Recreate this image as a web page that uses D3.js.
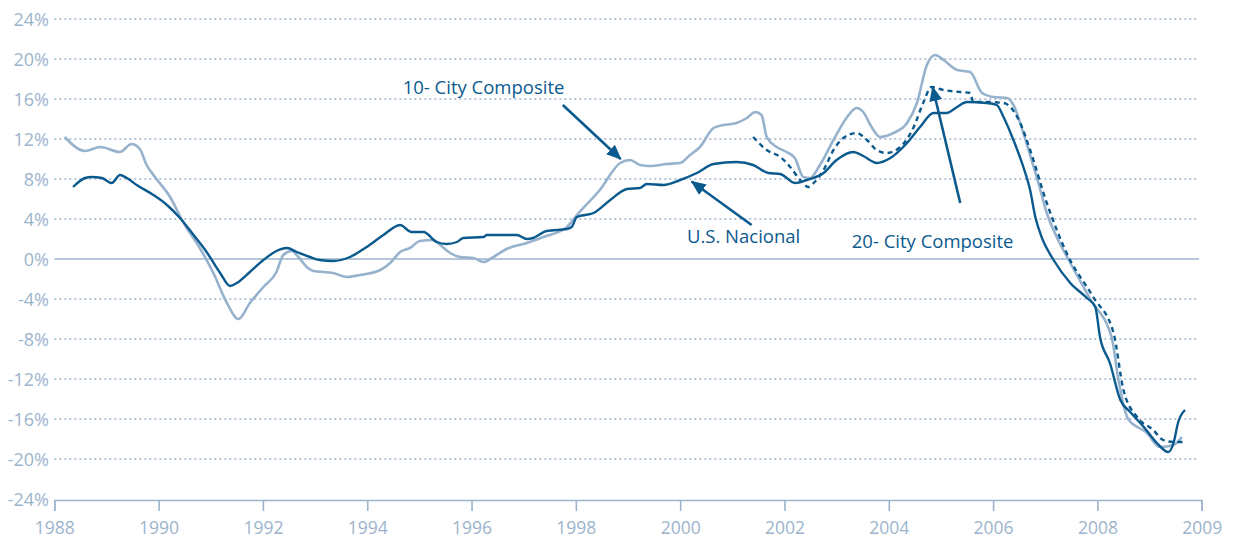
<!DOCTYPE html>
<html>
<head>
<meta charset="utf-8">
<script src="https://cdn.jsdelivr.net/npm/d3@7"></script>
<style>
  body { margin: 0; background: #fff; }
  svg text { font-family: "Open Sans", "Noto Sans", sans-serif; }
</style>
</head>
<body>
<div id="chart"></div>
<script>
// Data: [year, % change year over year]
const tenCity = [
  [1988.2, 12.2], [1988.59, 10.8], [1988.88, 11.2], [1989.26, 10.7], [1989.48, 11.5], [1989.64, 11.0],
  [1989.77, 9.4], [1989.93, 8.2], [1990.22, 6.2], [1990.48, 3.6], [1990.79, 1.1], [1991.05, -1.4],
  [1991.31, -4.4], [1991.53, -6.0], [1991.75, -4.4], [1992.01, -2.8], [1992.26, -1.3], [1992.39, 0.4],
  [1992.55, 0.8], [1992.68, 0.2], [1992.84, -0.8], [1992.97, -1.2], [1993.35, -1.4], [1993.61, -1.8],
  [1993.86, -1.6], [1994.25, -1.1], [1994.44, -0.4], [1994.63, 0.7], [1994.82, 1.1], [1995.01, 1.8],
  [1995.27, 1.9], [1995.4, 1.4], [1995.59, 0.6], [1995.78, 0.2], [1996.03, 0.1], [1996.23, -0.3],
  [1996.42, 0.2], [1996.67, 1.0], [1997.06, 1.6], [1997.38, 2.2], [1997.83, 3.2], [1998.02, 4.4],
  [1998.46, 6.9], [1998.85, 9.6], [1999.04, 9.9], [1999.23, 9.4], [1999.42, 9.3], [1999.74, 9.5],
  [2000.0, 9.6], [2000.19, 10.4], [2000.38, 11.2], [2000.64, 13.1], [2000.83, 13.4], [2001.08, 13.6],
  [2001.28, 14.1], [2001.44, 14.7], [2001.56, 14.4], [2001.66, 12.2], [2001.85, 11.2], [2002.04, 10.7],
  [2002.2, 10.1], [2002.36, 8.2], [2002.49, 8.1], [2002.68, 9.4], [2002.94, 11.9], [2003.19, 14.1],
  [2003.38, 15.1], [2003.51, 14.7], [2003.67, 13.2], [2003.83, 12.2], [2004.09, 12.6], [2004.35, 13.6],
  [2004.54, 15.6], [2004.73, 19.4], [2004.89, 20.4], [2005.05, 19.9], [2005.31, 18.9], [2005.56, 18.7],
  [2005.79, 16.6], [2006.01, 16.2], [2006.27, 16.1], [2006.39, 15.4], [2006.58, 12.6], [2006.71, 10.4],
  [2006.87, 7.6], [2007.03, 4.6], [2007.22, 2.2], [2007.44, 0.0], [2007.86, -4.0], [2008.28, -8.0],
  [2008.4, -12.0], [2008.59, -16.0], [2008.95, -17.4], [2009.2, -18.8], [2009.46, -18.6], [2009.62, -17.8]
];

const usNational = [
  [1988.36, 7.2], [1988.59, 8.1], [1988.72, 8.2], [1988.91, 8.1], [1989.1, 7.6], [1989.26, 8.4],
  [1989.39, 8.1], [1989.58, 7.4], [1989.9, 6.4], [1990.16, 5.4], [1990.41, 4.1], [1990.67, 2.4],
  [1990.92, 0.7], [1991.18, -1.4], [1991.37, -2.7], [1991.5, -2.4], [1991.75, -1.3], [1992.01, -0.1],
  [1992.26, 0.8], [1992.46, 1.1], [1992.65, 0.7], [1992.9, 0.2], [1993.09, -0.1], [1993.35, -0.2],
  [1993.67, 0.2], [1993.99, 1.2], [1994.31, 2.4], [1994.63, 3.4], [1994.85, 2.7], [1995.08, 2.7],
  [1995.33, 1.7], [1995.52, 1.5], [1995.72, 1.7], [1995.84, 2.1], [1996.23, 2.2], [1996.29, 2.4],
  [1996.87, 2.4], [1997.06, 2.0], [1997.18, 2.1], [1997.44, 2.8], [1997.83, 3.0], [1997.92, 3.2],
  [1998.02, 4.2], [1998.34, 4.6], [1998.66, 5.9], [1998.98, 7.0], [1999.23, 7.1], [1999.36, 7.5],
  [1999.68, 7.4], [2000.0, 7.9], [2000.32, 8.6], [2000.64, 9.5], [2001.08, 9.7], [2001.4, 9.4],
  [2001.69, 8.6], [2001.92, 8.5], [2002.2, 7.6], [2002.43, 7.9], [2002.75, 8.6], [2003.0, 9.9],
  [2003.32, 10.7], [2003.51, 10.3], [2003.77, 9.6], [2004.03, 10.1], [2004.35, 11.6], [2004.6, 13.2],
  [2004.86, 14.6], [2005.11, 14.6], [2005.31, 15.2], [2005.5, 15.7], [2005.88, 15.6], [2006.07, 15.4],
  [2006.2, 14.2], [2006.39, 11.9], [2006.58, 9.2], [2006.71, 6.9], [2006.81, 4.2], [2006.93, 2.2],
  [2007.16, -0.1], [2007.48, -2.4], [2007.8, -3.9], [2007.96, -4.8], [2008.05, -7.8], [2008.24, -10.4],
  [2008.44, -14.1], [2008.63, -15.3], [2008.89, -16.8], [2009.14, -18.4], [2009.36, -19.3], [2009.46, -18.4],
  [2009.55, -16.3], [2009.68, -15.1]
];

const twentyCity = [
  [2001.4, 12.2], [2001.66, 10.9], [2001.92, 10.2], [2002.11, 9.2], [2002.3, 7.9], [2002.46, 7.2],
  [2002.56, 7.6], [2002.75, 8.9], [2002.94, 10.9], [2003.13, 12.1], [2003.38, 12.6], [2003.58, 11.9],
  [2003.77, 10.9], [2003.96, 10.6], [2004.22, 11.2], [2004.47, 13.1], [2004.66, 15.6], [2004.82, 17.2],
  [2005.05, 16.9], [2005.37, 16.7], [2005.56, 16.6], [2005.62, 15.7], [2005.88, 15.7], [2006.2, 15.6],
  [2006.33, 15.2], [2006.52, 13.6], [2006.71, 10.9], [2007.03, 5.6], [2007.41, 0.6], [2007.92, -3.8],
  [2008.31, -7.4], [2008.5, -13.1], [2008.76, -15.8], [2009.07, -17.1], [2009.26, -18.1], [2009.46, -18.3],
  [2009.65, -18.3]
];

const yTicks = [24, 20, 16, 12, 8, 4, 0, -4, -8, -12, -16, -20, -24];
const xTickValues = [1988, 1990, 1992, 1994, 1996, 1998, 2000, 2002, 2004, 2006, 2008, 2010];
const xTickLabels = ["1988", "1990", "1992", "1994", "1996", "1998", "2000", "2002", "2004", "2006", "2008", "2009"];

// annotation labels with arrow [from, to] in data units
const notes = [
  { text: "10- City Composite", at: [1994.68, 16.5], from: [1997.75, 15.4], to: [1998.86, 10.0] },
  { text: "U.S. Nacional", at: [2000.13, 1.6], from: [2001.37, 3.4], to: [2000.22, 7.75] },
  { text: "20- City Composite", at: [2003.29, 1.1], from: [2005.37, 5.6], to: [2004.84, 17.2] }
];

const width = 1236, height = 540;
const darkBlue = "#0b5a8e";
const lightBlue = "#97b2cd";
const axisColor = "#9cb4cd";

const svg = d3.select("#chart")
  .append("svg")
  .attr("width", width)
  .attr("height", height);

const x = d3.scaleLinear().domain([1988, 2010]).range([54.3, 1201.7]);
const y = d3.scaleLinear().domain([-24, 24]).range([499, 19]);

// gridlines
svg.append("g")
  .selectAll("line")
  .data(yTicks.filter(d => d !== -24))
  .enter()
  .append("line")
  .attr("x1", x(1988))
  .attr("x2", 1199)
  .attr("y1", d => y(d))
  .attr("y2", d => y(d))
  .attr("stroke", axisColor)
  .attr("stroke-width", d => d === 0 ? 1.5 : 1.3)
  .attr("stroke-dasharray", d => d === 0 ? null : "2,3");

// y labels
svg.append("g")
  .selectAll("text")
  .data(yTicks)
  .enter()
  .append("text")
  .attr("x", 49)
  .attr("y", d => y(d) + 6.5)
  .attr("text-anchor", "end")
  .attr("fill", axisColor)
  .style("font-size", "18px")
  .text(d => d + "%");

// x axis
const xAxis = d3.axisBottom(x)
  .tickValues(xTickValues)
  .tickSize(11)
  .tickPadding(11)
  .tickFormat((d, i) => xTickLabels[i]);

const gx = svg.append("g")
  .attr("transform", `translate(0,${y(-24) + 1})`)
  .call(xAxis);

gx.select(".domain").attr("stroke", axisColor).attr("stroke-width", 1.6);
gx.selectAll(".tick line").attr("stroke", axisColor).attr("stroke-width", 1.6);
gx.selectAll(".tick text")
  .attr("fill", axisColor)
  .style("font-size", "17.5px")
  .style("font-family", "'Open Sans', sans-serif");

// lines
const line = d3.line()
  .x(d => x(d[0]))
  .y(d => y(d[1]))
  .curve(d3.curveMonotoneX);

svg.append("path")
  .datum(tenCity)
  .attr("d", line)
  .attr("fill", "none")
  .attr("stroke", lightBlue)
  .attr("stroke-width", 2.6);

svg.append("path")
  .datum(usNational)
  .attr("d", line)
  .attr("fill", "none")
  .attr("stroke", darkBlue)
  .attr("stroke-width", 2.4);

svg.append("path")
  .datum(twentyCity)
  .attr("d", line)
  .attr("fill", "none")
  .attr("stroke", darkBlue)
  .attr("stroke-width", 2.4)
  .attr("stroke-dasharray", "5,4");

// arrows
svg.append("defs").append("marker")
  .attr("id", "arrow")
  .attr("viewBox", "0 0 14 12")
  .attr("refX", 13)
  .attr("refY", 6)
  .attr("markerWidth", 15)
  .attr("markerHeight", 13)
  .attr("markerUnits", "userSpaceOnUse")
  .attr("orient", "auto")
  .append("path")
  .attr("d", "M0,0 L14,6 L0,12 Z")
  .attr("fill", darkBlue);

svg.append("g")
  .selectAll("line")
  .data(notes)
  .enter()
  .append("line")
  .attr("x1", d => x(d.from[0]))
  .attr("y1", d => y(d.from[1]))
  .attr("x2", d => x(d.to[0]))
  .attr("y2", d => y(d.to[1]))
  .attr("stroke", darkBlue)
  .attr("stroke-width", 2.6)
  .attr("marker-end", "url(#arrow)");

svg.append("g")
  .selectAll("text")
  .data(notes)
  .enter()
  .append("text")
  .attr("x", d => x(d.at[0]))
  .attr("y", d => y(d.at[1]))
  .attr("fill", darkBlue)
  .style("font-size", "18.5px")
  .text(d => d.text);
</script>
</body>
</html>
